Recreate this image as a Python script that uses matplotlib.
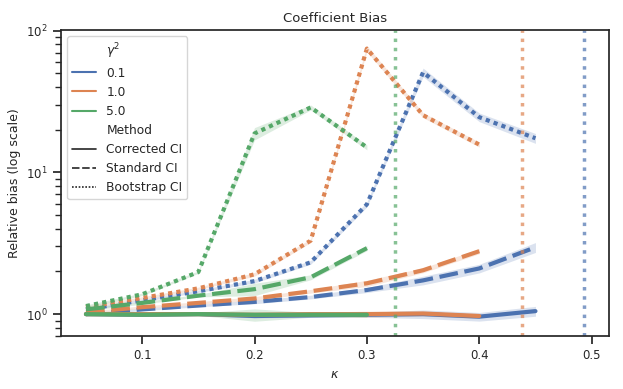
import matplotlib
matplotlib.use("Agg")
import matplotlib.pyplot as plt
from matplotlib.lines import Line2D
from matplotlib.ticker import LogLocator, NullFormatter
import numpy as np
import seaborn as sns

sns.set_style("ticks")
plt.rcParams['font.family'] = ['DejaVu Sans']

# --- data ---------------------------------------------------------------
kappa = [0.05, 0.10, 0.15, 0.20, 0.25, 0.30, 0.35, 0.40, 0.45]
gammas = ["0.1", "1.0", "5.0"]
methods = ["Corrected CI", "Standard CI", "Bootstrap CI"]

# relative bias per gamma^2 and method (mean)
corrected_01 = [1.00, 0.99, 1.00, 0.97, 0.98, 0.99, 1.00, 0.96, 1.05]
corrected_10 = [1.00, 1.00, 1.00, 0.99, 1.00, 1.00, 1.01, 0.97]
corrected_50 = [1.00, 0.99, 1.00, 0.99, 0.99, 0.99]

standard_01 = [1.00, 1.08, 1.15, 1.22, 1.32, 1.48, 1.73, 2.10, 2.96]
standard_10 = [1.03, 1.12, 1.20, 1.29, 1.45, 1.65, 2.04, 2.78]
standard_50 = [1.08, 1.20, 1.35, 1.50, 1.82, 2.92]

bootstrap_01 = [1.08, 1.25, 1.45, 1.71, 2.32, 5.95, 50.8, 24.5, 17.4]
bootstrap_10 = [1.12, 1.30, 1.52, 1.91, 3.30, 74.6, 25.3, 15.7]
bootstrap_50 = [1.14, 1.38, 1.98, 18.8, 28.7, 15.0]

# relative half-width of the confidence band
ci_01 = [0.02, 0.02, 0.02, 0.03, 0.03, 0.04, 0.07, 0.07, 0.08]
ci_10 = [0.02, 0.02, 0.02, 0.03, 0.03, 0.05, 0.04, 0.04]
ci_50 = [0.02, 0.02, 0.02, 0.10, 0.04, 0.04]

# critical kappa per gamma^2
kappa_crit = [0.493, 0.438, 0.325]

series = {
    "0.1": [corrected_01, standard_01, bootstrap_01, ci_01],
    "1.0": [corrected_10, standard_10, bootstrap_10, ci_10],
    "5.0": [corrected_50, standard_50, bootstrap_50, ci_50],
}

colors = ["#4C72B0", "#DD8452", "#55A868"]
dashes = [(None, None), (4.5, 1.6), (1, 1)]

# --- figure -------------------------------------------------------------
fig = plt.figure(figsize=(6.23, 3.89), dpi=100)
ax = fig.add_axes([0.098, 0.136, 0.879, 0.787])

for g, col in zip(gammas, colors):
    vals = series[g]
    ci = np.array(vals[3])
    for m, d in zip(range(3), dashes):
        y = np.array(vals[m])
        x = kappa[:len(y)]
        ax.fill_between(x, y * (1 - ci[:len(y)]), y * (1 + ci[:len(y)]),
                        color=col, alpha=0.2, lw=0)
        line, = ax.plot(x, y, color=col, lw=3)
        if d[0] is not None:
            line.set_dashes(d)

for kc, col in zip(kappa_crit, colors):
    ax.axvline(kc, color=col, ls=":", lw=2.5, alpha=0.7)

ax.set_yscale("log")
ax.set_ylim(0.7, 101)
ax.yaxis.set_minor_locator(LogLocator(base=10, subs=np.arange(2, 10)))
ax.yaxis.set_minor_formatter(NullFormatter())
ax.set_xticks([0.1, 0.2, 0.3, 0.4, 0.5])
ax.set_xlabel(r"$\kappa$", fontsize=9)
ax.set_ylabel("Relative bias (log scale)", fontsize=9)
ax.set_title("Coefficient Bias", fontsize=9.5)
ax.tick_params(which="major", length=6, width=1.25, labelsize=8.5,
               color="#262626", labelcolor="#262626")
ax.tick_params(which="minor", left=True, length=4, width=1, color="#262626")
for s in ax.spines.values():
    s.set_color("#262626")
    s.set_linewidth(1.25)

# seaborn-like legend with subtitles
blank = Line2D([], [], linestyle="none")
handles = [blank]
labels = [r"$\gamma^2$"]
for g, col in zip(gammas, colors):
    handles.append(Line2D([], [], color=col, lw=1.5))
    labels.append(g)
handles.append(blank)
labels.append("Method")
for m, d in zip(methods, dashes):
    h = Line2D([], [], color="#262626", lw=1.2)
    if d[0] is not None:
        h.set_dashes(d)
    handles.append(h)
    labels.append(m)
ax.legend(handles, labels, loc="upper left", fontsize=8.8)

fig.savefig("out.png", dpi=100)
